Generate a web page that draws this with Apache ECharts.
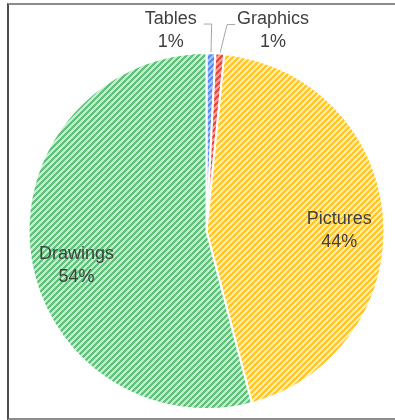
<!DOCTYPE html>
<html>
<head>
<meta charset="utf-8">
<title>Pie</title>
<script src="https://cdn.jsdelivr.net/npm/echarts@6/dist/echarts.min.js"></script>
<style>
  html, body { margin: 0; padding: 0; background: #fff; }
  #frame {
    position: absolute; left: 7px; top: 3px; width: 400px; height: 413px;
    border-top: 2px solid #8c8c8c; border-left: 2px solid #4a4a4a; border-bottom: 2px solid #8c8c8c;
  }
  #chart { position: absolute; left: 0; top: 0; width: 395px; height: 420px; }
</style>
</head>
<body>
<div id="frame"></div>
<div id="chart"></div>
<script>
var categories = ['Tables', 'Graphics', 'Pictures', 'Drawings'];
var shares = [0.8, 0.8, 44.3, 54.1];

// stripe colours: [dark, light]
var hatchColors = [
  ['#5a8cf0', '#a8c4f8'],
  ['#e8473d', '#f4a29a'],
  ['#ffc52a', '#ffedb4'],
  ['#5ec27a', '#c6edd0']
];
var center = [206.5, 231];
// small hand tweaks for the inside labels: [dx, dy]
var nudge = { 2: [-3, 10], 3: [5, 17] };

// upward diagonal hatch tile
function hatch(dark, light) {
  var size = 6;
  var c = document.createElement('canvas');
  c.width = c.height = size;
  var g = c.getContext('2d');
  g.fillStyle = light;
  g.fillRect(0, 0, size, size);
  g.fillStyle = dark;
  for (var y = 0; y < size; y++) {
    for (var x = 0; x < size; x++) {
      if ((x + y) % size < 3) g.fillRect(x, y, 1, 1);
    }
  }
  return c;
}

var pieData = categories.map(function (name, i) {
  return {
    name: name,
    value: shares[i],
    itemStyle: { color: { image: hatch(hatchColors[i][0], hatchColors[i][1]), repeat: 'repeat' } },
    label: { position: i < 2 ? 'outside' : 'inside' },
    labelLine: { show: i < 2 }
  };
});

var myChart = echarts.init(document.getElementById('chart'));
myChart.setOption({
  animation: false,
  series: [{
    type: 'pie',
    center: center,
    radius: 178,
    startAngle: 90,
    clockwise: true,
    avoidLabelOverlap: false,
    emphasis: { disabled: true },
    itemStyle: { borderColor: '#fff', borderWidth: 2 },
    label: {
      formatter: function (p) { return p.name + '\n' + Math.round(p.percent) + '%'; },
      fontFamily: 'Liberation Sans',
      fontSize: 18,
      lineHeight: 23,
      color: '#404040'
    },
    labelLine: { length: 29, length2: 8, lineStyle: { color: '#a6a6a6', width: 1 } },
    labelLayout: function (p) {
      var r = p.labelRect;
      var lx = r.x + r.width / 2, ly = r.y + r.height / 2;
      if (p.dataIndex >= 2) {
        // push inside labels further out, like the spreadsheet does
        var k = 1.48;
        return {
          x: center[0] + (lx - center[0]) * k + nudge[p.dataIndex][0],
          y: center[1] + (ly - center[1]) * k + nudge[p.dataIndex][1],
          align: 'center',
          verticalAlign: 'middle'
        };
      }
      var pts = p.labelLinePoints;
      var side = p.dataIndex === 0 ? -1 : 1;
      var elbow = [pts[1][0] + (side > 0 ? 5 : 0), pts[1][1]];
      var end = [elbow[0] + side * 8, elbow[1]];
      return {
        x: end[0] + side * (r.width / 2 + (side > 0 ? 2 : 7)),
        y: end[1] + 6,
        align: 'center',
        verticalAlign: 'middle',
        labelLinePoints: [pts[0], elbow, end]
      };
    },
    data: pieData
  }]
});
</script>
</body>
</html>
